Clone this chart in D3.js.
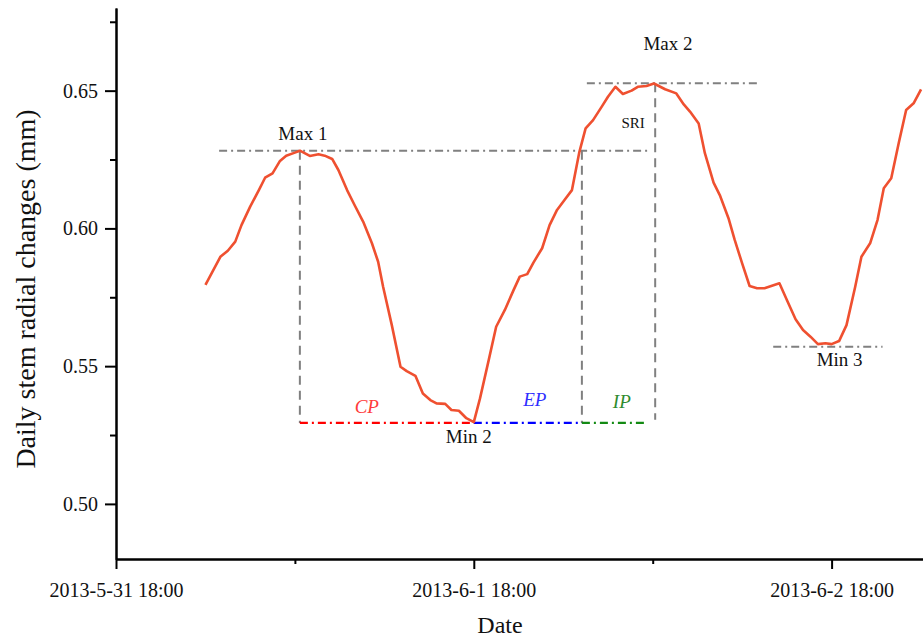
<!DOCTYPE html>
<html>
<head>
<meta charset="utf-8">
<script src="https://cdn.jsdelivr.net/npm/d3@7"></script>
<style>
  body { margin: 0; background: #fff; }
  text { font-family: "Liberation Serif", "Times New Roman", serif; }
</style>
</head>
<body>
<div id="chart"></div>
<script>
// half-hourly stem radius readings
const sampleTimes = [
  "2013-06-01 00:00","2013-06-01 01:00","2013-06-01 01:30","2013-06-01 02:00","2013-06-01 02:25",
  "2013-06-01 03:00","2013-06-01 03:35","2013-06-01 04:00","2013-06-01 04:30","2013-06-01 05:00",
  "2013-06-01 05:25","2013-06-01 06:00","2013-06-01 06:20","2013-06-01 07:00","2013-06-01 07:35",
  "2013-06-01 08:00","2013-06-01 08:30","2013-06-01 08:55","2013-06-01 09:30","2013-06-01 10:00",
  "2013-06-01 10:35","2013-06-01 11:10","2013-06-01 11:35","2013-06-01 11:55","2013-06-01 12:30",
  "2013-06-01 13:05","2013-06-01 13:30","2013-06-01 14:05","2013-06-01 14:35","2013-06-01 15:05",
  "2013-06-01 15:30","2013-06-01 16:05","2013-06-01 16:30","2013-06-01 17:00","2013-06-01 17:30",
  "2013-06-01 18:00","2013-06-01 18:25","2013-06-01 19:00","2013-06-01 19:30","2013-06-01 20:05",
  "2013-06-01 20:40","2013-06-01 21:05","2013-06-01 21:35","2013-06-01 22:00","2013-06-01 22:35",
  "2013-06-01 23:05","2013-06-01 23:35","2013-06-02 00:05","2013-06-02 00:35","2013-06-02 01:05",
  "2013-06-02 01:30","2013-06-02 02:00","2013-06-02 02:35","2013-06-02 03:00","2013-06-02 03:30",
  "2013-06-02 04:00","2013-06-02 04:35","2013-06-02 05:00","2013-06-02 05:35","2013-06-02 06:05",
  "2013-06-02 06:50","2013-06-02 07:35","2013-06-02 08:05","2013-06-02 08:30","2013-06-02 09:05",
  "2013-06-02 09:30","2013-06-02 10:05","2013-06-02 10:30","2013-06-02 11:05","2013-06-02 11:30",
  "2013-06-02 12:00","2013-06-02 12:30","2013-06-02 13:00","2013-06-02 13:30","2013-06-02 14:30",
  "2013-06-02 15:00","2013-06-02 15:35","2013-06-02 16:05","2013-06-02 16:35","2013-06-02 17:05",
  "2013-06-02 17:35","2013-06-02 18:00","2013-06-02 18:30","2013-06-02 19:00","2013-06-02 19:35",
  "2013-06-02 20:00","2013-06-02 20:35","2013-06-02 21:05","2013-06-02 21:30","2013-06-02 22:00",
  "2013-06-02 22:30","2013-06-02 23:00","2013-06-02 23:30","2013-06-03 00:00"
]
const radialValues = [
  0.5795,0.5897,0.5919,0.5952,0.6012,
  0.6079,0.6139,0.6184,0.6200,0.6245,
  0.6264,0.6275,0.6282,0.6263,0.6269,
  0.6264,0.6252,0.6212,0.6139,0.6085,
  0.6024,0.5946,0.5879,0.5788,0.5649,
  0.5498,0.5482,0.5465,0.5401,0.5377,
  0.5365,0.5363,0.5341,0.5338,0.5311,
  0.5297,0.5383,0.5522,0.5643,0.5704,
  0.5776,0.5825,0.5834,0.5876,0.5928,
  0.6012,0.6067,0.6103,0.6139,0.6278,
  0.6363,0.6393,0.6442,0.6478,0.6514,
  0.6488,0.6500,0.6514,0.6517,0.6526,
  0.6505,0.6490,0.6450,0.6424,0.6381,
  0.6273,0.6166,0.6121,0.6037,0.5958,
  0.5873,0.5791,0.5783,0.5783,0.5801,
  0.5740,0.5670,0.5631,0.5607,0.5580,
  0.5583,0.5580,0.5591,0.5649,0.5788,
  0.5897,0.5946,0.6031,0.6146,0.6182,
  0.6309,0.6430,0.6454,0.6505
]

// axis ticks
const yMajorTicks = [0.50, 0.55, 0.60, 0.65]
const yMinorTicks = [0.525, 0.575, 0.625, 0.675]
const xMajorTicks = ["2013-05-31 18:00", "2013-06-01 18:00", "2013-06-02 18:00"]
const xMinorTicks = ["2013-06-01 06:00", "2013-06-02 06:00"]

// extreme points of the curve
const extremaNames  = ["Max 1", "Min 2", "Max 2", "Min 3"]
const extremaTimes  = ["2013-06-01 06:20", "2013-06-01 18:00", "2013-06-02 06:05", "2013-06-02 18:00"]
const extremaValues = [0.6282, 0.5294, 0.6527, 0.5570]

// grey guide lines (horizontal: from, to, level)
const hGuideFrom  = ["2013-06-01 00:55", "2013-06-02 01:35", "2013-06-02 14:05"]
const hGuideTo    = ["2013-06-02 05:50", "2013-06-02 13:00", "2013-06-02 21:25"]
const hGuideLevel = [0.6282, 0.6527, 0.5570]
// vertical: time, top, bottom
const vGuideTime   = ["2013-06-01 06:20", "2013-06-02 01:15", "2013-06-02 06:10"]
const vGuideTop    = [0.6282, 0.6282, 0.6527]
const vGuideBottom = [0.5294, 0.5294, 0.5305]

// phases
const phaseNames = ["CP", "EP", "IP"]
const phaseFrom  = ["2013-06-01 06:20", "2013-06-01 18:00", "2013-06-02 01:15"]
const phaseTo    = ["2013-06-01 18:00", "2013-06-02 01:15", "2013-06-02 05:40"]
const phaseLevel = 0.5294

const parseTime = d3.timeParse("%Y-%m-%d %H:%M")
const data = sampleTimes.map((t, i) => ({ date: parseTime(t), value: radialValues[i] }))

const width = 923, height = 638
const dayWidth = 357.8

const svg = d3.select("#chart").append("svg")
  .attr("width", width)
  .attr("height", height)

const xScale = d3.scaleTime()
  .domain([parseTime("2013-05-31 18:00"), parseTime("2013-06-03 06:00")])
  .range([116, 116 + 2.5 * dayWidth])
const yScale = d3.scaleLinear().domain([0.48, 0.68]).range([559, 8])

const grey = "#808080"

// guide lines
hGuideLevel.forEach(function(v, i) {
  svg.append("line")
    .attr("x1", xScale(parseTime(hGuideFrom[i])))
    .attr("x2", xScale(parseTime(hGuideTo[i])))
    .attr("y1", yScale(v)).attr("y2", yScale(v))
    .attr("stroke", grey).attr("stroke-width", 2)
    .attr("stroke-dasharray", "8,4,2,4")
})
vGuideTime.forEach(function(t, i) {
  svg.append("line")
    .attr("x1", xScale(parseTime(t))).attr("x2", xScale(parseTime(t)))
    .attr("y1", yScale(vGuideTop[i])).attr("y2", yScale(vGuideBottom[i]))
    .attr("stroke", grey).attr("stroke-width", 2)
    .attr("stroke-dasharray", "9,6")
})

// phase segments
const phaseColors = ["#ff0000", "#0000ff", "#138a13"]
const phaseTextColors = ["#ff3b3b", "#2f2fff", "#2e8b2e"]
const phaseLabelDx = [-20, 7, 7]
const phaseLabelDy = [-10, -17, -15]
phaseNames.forEach(function(name, i) {
  const x1 = xScale(parseTime(phaseFrom[i])), x2 = xScale(parseTime(phaseTo[i]))
  svg.append("line")
    .attr("x1", x1).attr("x2", x2)
    .attr("y1", yScale(phaseLevel)).attr("y2", yScale(phaseLevel))
    .attr("stroke", phaseColors[i]).attr("stroke-width", 2.2)
    .attr("stroke-dasharray", "8,4,2,4")
  svg.append("text")
    .attr("x", (x1 + x2) / 2 + phaseLabelDx[i])
    .attr("y", yScale(phaseLevel) + phaseLabelDy[i])
    .attr("text-anchor", "middle")
    .style("font-size", "19px")
    .style("font-style", "italic")
    .style("fill", phaseTextColors[i])
    .text(name)
})

// the curve
const line = d3.line()
  .x(d => xScale(d.date))
  .y(d => yScale(d.value))
svg.append("path")
  .attr("d", line(data))
  .attr("fill", "none")
  .attr("stroke", "#ef5030")
  .attr("stroke-width", 2.6)
  .attr("stroke-linejoin", "round")

// extrema labels
const labelDx = [3, -5, 14, 8]
const labelDy = [-11, 20, -33, 19]
extremaNames.forEach(function(name, i) {
  svg.append("text")
    .attr("x", xScale(parseTime(extremaTimes[i])) + labelDx[i])
    .attr("y", yScale(extremaValues[i]) + labelDy[i])
    .attr("text-anchor", "middle")
    .style("font-size", "19px")
    .style("fill", "#111")
    .text(name)
})
svg.append("text")
  .attr("x", xScale(parseTime(vGuideTime[2])) - 22)
  .attr("y", (yScale(hGuideLevel[0]) + yScale(hGuideLevel[1])) / 2 + 11)
  .attr("text-anchor", "middle")
  .style("font-size", "15px")
  .style("fill", "#111")
  .text("SRI")

// axes
const fmt = d3.timeFormat("%Y-%-m-%-d %H:%M")

const xAxis = svg.append("g")
  .attr("transform", "translate(0,559)")
  .call(d3.axisBottom(xScale).tickValues(xMajorTicks.map(parseTime))
    .tickSize(10).tickSizeOuter(0).tickPadding(14).tickFormat(fmt))
svg.append("g")
  .attr("transform", "translate(0,559)")
  .call(d3.axisBottom(xScale).tickValues(xMinorTicks.map(parseTime))
    .tickSize(5).tickSizeOuter(0).tickFormat(""))

const yAxis = svg.append("g")
  .attr("transform", "translate(116,0)")
  .call(d3.axisLeft(yScale).tickValues(yMajorTicks)
    .tickSize(11).tickSizeOuter(0).tickPadding(7).tickFormat(d3.format(".2f")))
svg.append("g")
  .attr("transform", "translate(116,0)")
  .call(d3.axisLeft(yScale).tickValues(yMinorTicks)
    .tickSize(6).tickSizeOuter(0).tickFormat(""))

svg.selectAll(".domain").attr("stroke", "#000").attr("stroke-width", 2)
svg.selectAll(".tick line").attr("stroke", "#000").attr("stroke-width", 2)
svg.selectAll(".tick text")
  .style("font-family", "'Liberation Serif', serif")
  .style("font-size", "20px")
  .attr("fill", "#111")

svg.append("text")
  .attr("transform", "translate(35,289) rotate(-90)")
  .attr("text-anchor", "middle")
  .style("font-size", "28px")
  .style("fill", "#111")
  .text("Daily stem radial changes (mm)")

svg.append("text")
  .attr("x", 500)
  .attr("y", 633)
  .attr("text-anchor", "middle")
  .style("font-size", "24px")
  .style("fill", "#111")
  .text("Date")
</script>
</body>
</html>
